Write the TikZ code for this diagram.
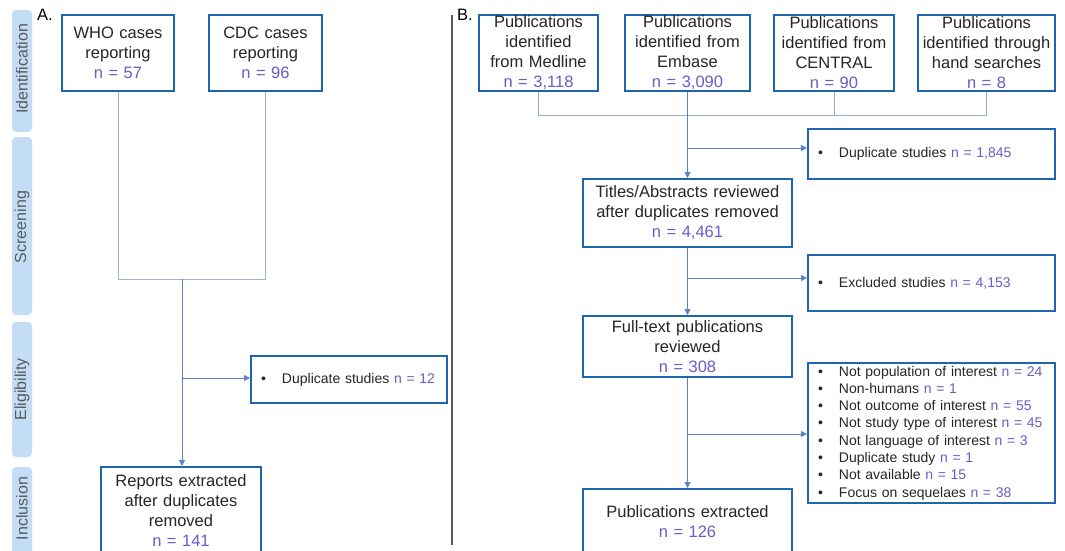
\documentclass[tikz,border=0pt]{standalone}
\usepackage{fontspec}
\setmainfont{Liberation Sans}
\usetikzlibrary{arrows.meta}
\definecolor{boxblue}{HTML}{1F66AE}
\definecolor{lnlight}{HTML}{9AB0DC}
\definecolor{lnblue}{HTML}{5A82CC}
\definecolor{ncol}{HTML}{6B5CC8}
\definecolor{txt}{HTML}{262626}
\definecolor{phasefill}{HTML}{C4DDF6}
\definecolor{phasetxt}{HTML}{595959}
\newcommand\nval[1]{\textcolor{ncol}{#1}}
\newcommand\bul{\makebox[21pt][l]{\textbullet}}
\begin{document}
\begin{tikzpicture}[x=1pt,y=-1pt,
  box/.style={draw=boxblue, line width=2pt, fill=white, align=center, inner sep=0pt,
    font=\fontsize{16.5}{20}\selectfont, text=txt},
  side/.style={draw=boxblue, line width=2pt, fill=white, align=left, inner xsep=10pt, inner ysep=0pt,
    font=\fontsize{14}{17.3}\selectfont, text=txt},
  ln/.style={draw=lnlight, line width=1pt},
  arr/.style={draw=lnblue, line width=1pt, -{Triangle[length=6pt,width=6pt]}},
  phasebox/.style={fill=phasefill, rounded corners=4pt},
  phaselabel/.style={rotate=90, text=phasetxt, font=\fontsize{16}{19}\selectfont},
  panel/.style={font=\fontsize{16.5}{20}\selectfont, text=black}
]
\useasboundingbox (0,0) rectangle (1065,551);
\fill[white] (0,0) rectangle (1065,551);

% phase labels
\fill[phasebox] (12,10) rectangle (32,132);
\fill[phasebox] (12,137) rectangle (32,315);
\fill[phasebox] (12,322) rectangle (32,457);
\fill[phasebox] (12,467) rectangle (32,570);
\node[phaselabel] (pid) at (22,69) {Identification};
\node[phaselabel] (psc) at (22,227) {Screening};
\node[phaselabel] (pel) at (22,389.5) {Eligibility};
\node[phaselabel] (pin) at (22,508.5) {Inclusion};

% divider
\draw[line width=1.2pt, draw=black!65] (452,15) -- (452,545);

\node[panel] (lA) at (45,15) {A.};
\node[panel] (lB) at (465,15) {B.};

% Panel A
\node[box, minimum width=112pt, minimum height=76pt, text width=104pt] (who) at (118,53)
  {WHO cases\\reporting\\\nval{n = 57}};
\node[box, minimum width=113pt, minimum height=76pt, text width=105pt] (cdc) at (265.5,53)
  {CDC cases\\reporting\\\nval{n = 96}};
\node[side, minimum height=47pt, text width=176pt] (dupA) at (349,379.5)
  {\bul Duplicate studies \nval{n = 12}};
\node[box, minimum width=160pt, minimum height=88pt, text width=152pt] (rep) at (181,511)
  {Reports extracted\\after duplicates\\removed\\\nval{n = 141}};

\coordinate (mA) at (182,279);
\coordinate (bA) at (182,378);
\draw[ln] (who.south) -- (who.south |- mA) -- (cdc.south |- mA) -- (cdc.south);
\draw[arr] (mA) -- (rep.north -| mA);
\draw[arr] (bA) -- (dupA.west |- bA);

% Panel B
\node[box, minimum width=119pt, minimum height=76pt, text width=115pt] (med) at (538.5,53)
  {Publications\\identified\\from Medline\\\nval{n = 3,118}};
\node[box, minimum width=125pt, minimum height=76pt, text width=121pt] (emb) at (687.5,53)
  {Publications\\identified from\\Embase\\\nval{n = 3,090}};
\node[box, minimum width=120pt, minimum height=76pt, text width=116pt] (cen) at (834,53)
  {Publications\\identified from\\CENTRAL\\\nval{n = 90}};
\node[box, minimum width=137pt, minimum height=76pt, text width=133pt] (hand) at (986.5,53)
  {Publications\\identified through\\hand searches\\\nval{n = 8}};

\node[box, minimum width=209pt, minimum height=68pt, text width=201pt] (tit) at (687.5,213)
  {Titles/Abstracts reviewed\\after duplicates removed\\\nval{n = 4,461}};
\node[box, minimum width=209pt, minimum height=61pt, text width=201pt] (full) at (687.5,346.5)
  {Full-text publications\\reviewed\\\nval{n = 308}};
\node[box, minimum width=209pt, minimum height=66pt, text width=201pt] (pub) at (687.5,522)
  {Publications extracted\\\nval{n = 126}};

\node[side, minimum height=50pt, text width=227pt] (dupB) at (931.5,154)
  {\bul Duplicate studies \nval{n = 1,845}};
\node[side, minimum height=56pt, text width=227pt] (exc) at (931.5,283)
  {\bul Excluded studies \nval{n = 4,153}};
\node[side, minimum height=140pt, text width=227pt] (lst) at (931.5,433)
  {\bul Not population of interest \nval{n = 24}\\
   \bul Non-humans \nval{n = 1}\\
   \bul Not outcome of interest \nval{n = 55}\\
   \bul Not study type of interest \nval{n = 45}\\
   \bul Not language of interest \nval{n = 3}\\
   \bul Duplicate study \nval{n = 1}\\
   \bul Not available \nval{n = 15}\\
   \bul Focus on sequelaes \nval{n = 38}};

\coordinate (mB) at (687.5,115);
\draw[ln] (med.south) -- (med.south |- mB) -- (hand.south |- mB) -- (hand.south);
\draw[ln] (cen.south) -- (cen.south |- mB);
\draw[arr] (emb.south) -- (tit.north);
\draw[arr] (tit.south) -- (full.north);
\draw[arr] (full.south) -- (pub.north);
\coordinate (b1) at (687.5,148);
\coordinate (b2) at (687.5,278);
\coordinate (b3) at (687.5,434);
\draw[arr] (b1) -- (dupB.west |- b1);
\draw[arr] (b2) -- (exc.west |- b2);
\draw[arr] (b3) -- (lst.west |- b3);
\end{tikzpicture}
\end{document}
